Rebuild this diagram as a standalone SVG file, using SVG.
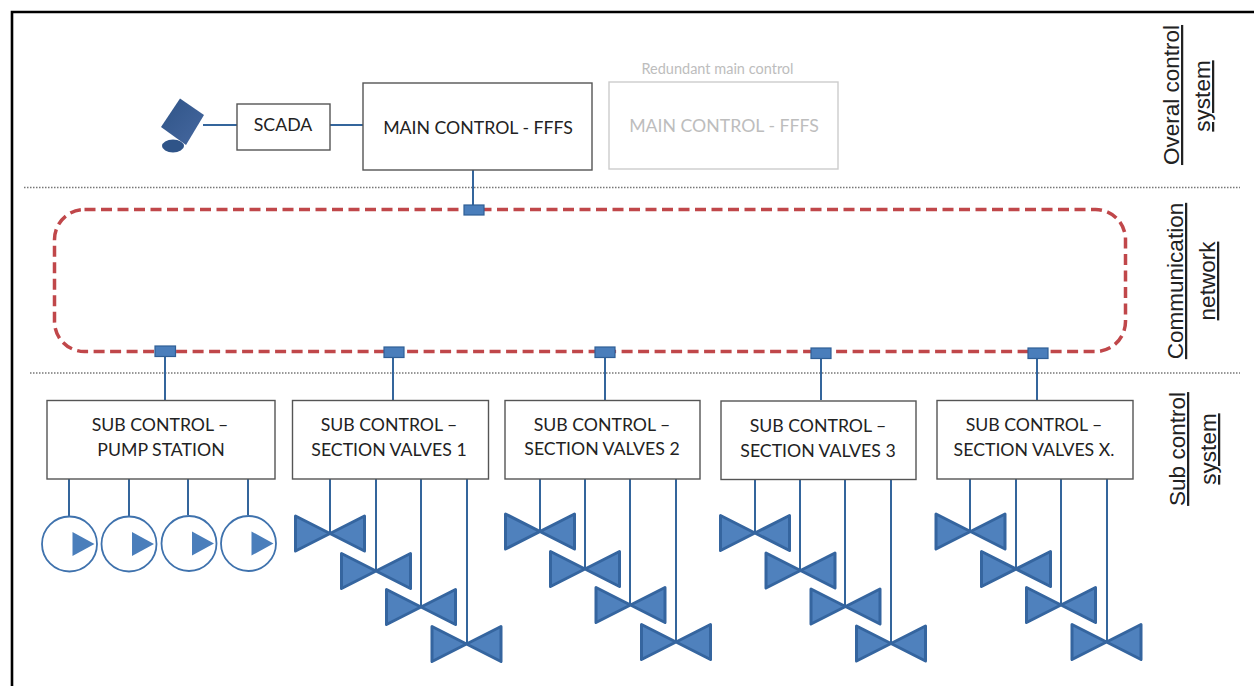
<svg xmlns="http://www.w3.org/2000/svg" xmlns:xlink="http://www.w3.org/1999/xlink" width="1254" height="686" viewBox="0 0 1254 686">
<style>
text{font-family:Lato,"Liberation Sans",sans-serif;fill:#222;text-anchor:middle}
.box{fill:#fff;stroke:#555;stroke-width:1.4}
.t{font-size:17.700px}
.c{fill:none;stroke:#34659c;stroke-width:2}
.dot{fill:none;stroke:#777;stroke-width:1.3;stroke-dasharray:1.5 1.5}
.port{fill:#4a7ebb;stroke:#2f5f96;stroke-width:1.2}
.pump{fill:#fff;stroke:#3f72ad;stroke-width:1.8}
.tri{fill:#4a7ebb}
.valve{fill:#4f81bd;stroke:#35659f;stroke-width:3;stroke-linejoin:round}
.side{font-family:"Liberation Sans",Arial,sans-serif;font-size:22.500px;text-decoration:underline;fill:#222}
</style>
<defs>
<path id="v" class="valve" d="M-34.500-17.500L34.500 17.500V-17.500L-34.500 17.500Z"/>
<g id="p"><circle class="pump" r="27.500"/><path class="tri" d="M3-12L25 0L3 12Z"/></g>
<linearGradient id="mon" x1="0" y1="0" x2="1" y2="1"><stop offset="0" stop-color="#2f5487"/><stop offset="1" stop-color="#4668a0"/></linearGradient>
</defs>
<rect width="1254" height="686" fill="#fff"/>
<path d="M12 686V12H1254" fill="none" stroke="#000" stroke-width="2.600"/>
<g id="separators">
<path class="dot" d="M24 187.500H1240"/>
<path class="dot" d="M30 373H1240"/>
</g>
<g id="connectors">
<path class="c" d="M203 125H237M330 125H363M473 170V205M165 356V400M393 356V400M605 356V400M821 358V400M1037 358V400"/>
<path class="c" d="M69 479V516M129 479V516M188 478V515M248 478V515"/>
<path class="c" d="M330 479V533M376 479V570M421 479V607M467 479V644"/>
<path class="c" d="M540 477V532M585 479V569M630 479V605M676 479V642"/>
<path class="c" d="M755 479V533M800 479V570M845 479V607M891 479V644"/>
<path class="c" d="M970 477V532M1016 479V569M1061 479V605M1107 479V642"/>
</g>
<g id="ring"><rect x="54.500" y="209.500" width="1071" height="142" rx="30" fill="none" stroke="#c0474a" stroke-width="3.500" stroke-dasharray="11 5.500"/></g>
<g id="monitor">
<ellipse cx="173" cy="146" rx="11" ry="6.500" fill="#2f5488"/>
<path d="M180 98.500L204 115L186 145L161 127Z" fill="url(#mon)"/>
</g>
<g id="scada"><rect class="box" x="237" y="104" width="93" height="46"/><text class="t" x="283" y="131">SCADA</text></g>
<g id="main"><rect class="box" x="363" y="83" width="229" height="87"/><text class="t" x="478" y="134">MAIN CONTROL - FFFS</text></g>
<g id="redundant"><rect x="609" y="82" width="229" height="87" fill="#fff" stroke="#ccc" stroke-width="1.400"/><text class="t" x="724" y="132" style="fill:#bdbdbd">MAIN CONTROL - FFFS</text><text x="717.500" y="74" style="fill:#bdbdbd;font-size:14.500px">Redundant main control</text></g>
<g id="ports">
<rect class="port" x="155" y="346" width="20.500" height="10.500"/>
<rect class="port" x="464" y="205" width="20" height="10"/>
<rect class="port" x="384" y="347" width="20" height="10.500"/>
<rect class="port" x="595" y="347" width="20" height="10.500"/>
<rect class="port" x="811" y="348" width="20" height="10.500"/>
<rect class="port" x="1028" y="348" width="20" height="10.500"/>
</g>
<g id="sub-pump"><rect class="box" x="47" y="400.500" width="228" height="78.500"/><text class="t" x="160" y="431">SUB CONTROL –</text><text class="t" x="161" y="456">PUMP STATION</text></g>
<g id="sub-1"><rect class="box" x="292.500" y="400.500" width="196" height="78.500"/><text class="t" x="389" y="431">SUB CONTROL –</text><text class="t" x="389" y="456">SECTION VALVES 1</text></g>
<g id="sub-2"><rect class="box" x="505" y="400.500" width="195" height="78.500"/><text class="t" x="602" y="431">SUB CONTROL –</text><text class="t" x="602" y="455">SECTION VALVES 2</text></g>
<g id="sub-3"><rect class="box" x="721" y="401" width="195" height="78.500"/><text class="t" x="818" y="432">SUB CONTROL –</text><text class="t" x="818" y="457">SECTION VALVES 3</text></g>
<g id="sub-x"><rect class="box" x="937" y="400.500" width="196" height="78.500"/><text class="t" x="1034" y="431">SUB CONTROL –</text><text class="t" x="1034" y="456">SECTION VALVES X.</text></g>
<g id="pumps">
<use xlink:href="#p" x="69.500" y="544"/>
<use xlink:href="#p" x="129" y="544"/>
<use xlink:href="#p" x="189" y="543.500"/>
<use xlink:href="#p" x="248.500" y="543.500"/>
</g>
<g id="valves">
<use xlink:href="#v" x="330" y="533.500"/><use xlink:href="#v" x="376" y="571"/><use xlink:href="#v" x="421" y="607"/><use xlink:href="#v" x="466.500" y="644"/>
<use xlink:href="#v" x="540" y="531.500"/><use xlink:href="#v" x="585" y="569"/><use xlink:href="#v" x="630.500" y="605"/><use xlink:href="#v" x="676" y="642"/>
<use xlink:href="#v" x="755" y="533"/><use xlink:href="#v" x="800.500" y="570.500"/><use xlink:href="#v" x="845.500" y="606.500"/><use xlink:href="#v" x="891" y="643.500"/>
<use xlink:href="#v" x="970.500" y="531.500"/><use xlink:href="#v" x="1016" y="569"/><use xlink:href="#v" x="1061" y="605"/><use xlink:href="#v" x="1106.500" y="642"/>
</g>
<g id="labels">
<text class="side" transform="translate(1179 95) rotate(-90)">Overal control</text>
<text class="side" transform="translate(1210 96) rotate(-90)">system</text>
<text class="side" transform="translate(1183 281) rotate(-90)">Communication</text>
<text class="side" transform="translate(1215 281) rotate(-90)">network</text>
<text class="side" transform="translate(1185 449) rotate(-90)">Sub control</text>
<text class="side" transform="translate(1216 449) rotate(-90)">system</text>
</g>
</svg>
